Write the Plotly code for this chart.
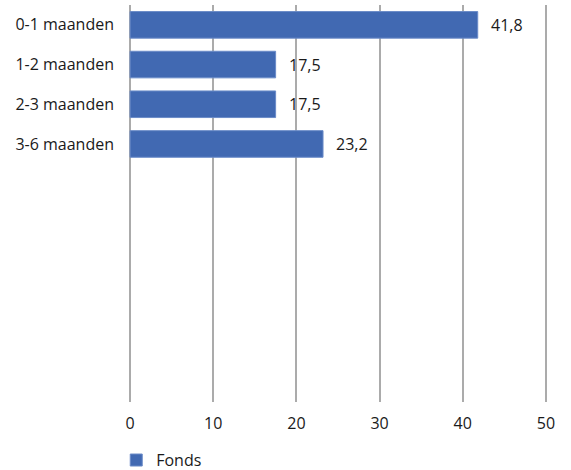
import plotly.graph_objects as go

# Category labels and values (percentages)
categories = ["0-1 maanden", "1-2 maanden", "2-3 maanden", "3-6 maanden"]
values = [41.8, 17.5, 17.5, 23.2]
series_name = "Fonds"
x_ticks = [0, 10, 20, 30, 40, 50]

FONT = "Open Sans"
BAR_COLOR = "#4169b2"
TEXT_COLOR = "#1a1a1a"
GRID_COLOR = "#ababab"

positions = list(range(len(categories)))

fig = go.Figure()
fig.add_trace(go.Bar(
    x=values,
    y=positions,
    orientation="h",
    name=series_name,
    marker=dict(color=BAR_COLOR, line=dict(color="#6a8bc8", width=1)),
    width=0.67,
    showlegend=True,
))

# Value labels to the right of each bar
for p, v in zip(positions, values):
    fig.add_annotation(
        x=v, y=p, xref="x", yref="y",
        text=f"{v:.1f}".replace(".", ","),
        showarrow=False, xanchor="left", yanchor="middle", xshift=11,
        font=dict(family=FONT, size=16, color=TEXT_COLOR),
    )

fig.update_layout(
    width=571, height=470,
    margin=dict(l=128, r=23, t=5, b=68, autoexpand=False),
    plot_bgcolor="white", paper_bgcolor="white",
    font=dict(family=FONT, size=16, color=TEXT_COLOR),
    bargap=0.33,
    xaxis=dict(
        # small padding so the grid lines at 0 and 50 are drawn
        range=[-0.25, 50.25], tickvals=x_ticks, ticktext=[str(t) for t in x_ticks],
        showgrid=True, gridcolor=GRID_COLOR, gridwidth=1.5,
        zeroline=True, zerolinecolor=GRID_COLOR, zerolinewidth=1.5,
        showline=False, ticks="",
        ticklabelstandoff=10,
        tickfont=dict(family=FONT, size=16, color=TEXT_COLOR),
        fixedrange=True,
    ),
    yaxis=dict(
        range=[9.5, -0.5], tickvals=positions, ticktext=categories,
        showgrid=False, zeroline=False, showline=False, ticks="",
        ticklabelstandoff=13,
        tickfont=dict(family=FONT, size=16, color=TEXT_COLOR),
        fixedrange=True,
    ),
    legend=dict(
        orientation="h", x=-0.028, xanchor="left",
        yref="container", y=0.021, yanchor="middle",
        font=dict(family=FONT, size=16, color=TEXT_COLOR),
        bgcolor="rgba(0,0,0,0)",
    ),
)

fig.write_html("out.html")
